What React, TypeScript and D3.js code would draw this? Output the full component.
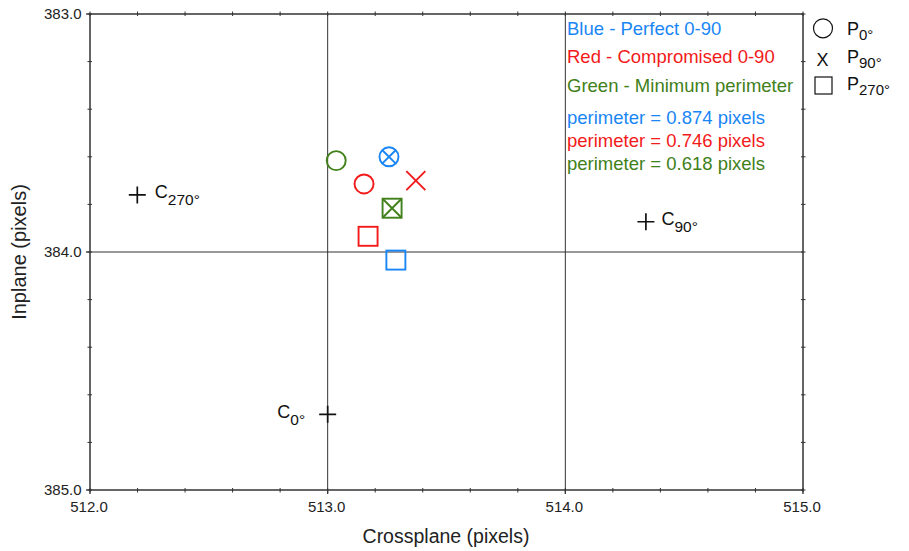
import React from "react";
import * as d3 from "d3";

const xTicks = [512, 513, 514, 515];
const yTicks = [383, 384, 385];
const gridX = [513, 514];
const gridY = [384];

const seriesNames = ["Blue - Perfect 0-90", "Red - Compromised 0-90", "Green - Minimum perimeter"];
const seriesColors = ["#1a86f5", "#f21a1a", "#41801a"];
const perimeters = ["0.874", "0.746", "0.618"];

const p0X = [513.258, 513.153, 513.036];
const p0Y = [383.6, 383.714, 383.616];
const p90X = [513.258, 513.371, 513.271];
const p90Y = [383.6, 383.7, 383.816];
const p270X = [513.287, 513.17, 513.271];
const p270Y = [384.034, 383.934, 383.816];

const centerLabels = ["0°", "90°", "270°"];
const centerX = [513.0, 514.339, 512.199];
const centerY = [384.682, 383.873, 383.76];

const symbolLabels = ["0°", "90°", "270°"];

const W = 909;
const H = 551;
const L = 90, R = 803, T = 14, B = 490;
const FONT = "'Liberation Sans', Arial, Helvetica, sans-serif";

export default function App() {
  const x = d3.scaleLinear().domain([512, 515]).range([L, R]);
  const y = d3.scaleLinear().domain([383, 385]).range([T, B]);
  const xMinor = d3.range(512, 515.0001, 0.2).map((v) => +v.toFixed(2));
  const yMinor = d3.range(383, 385.0001, 0.2).map((v) => +v.toFixed(2));
  const ink = "#333";
  const r = 9.5;
  const half = 9.5;
  const sw = 1.9;

  const circle = (cx: number, cy: number, c: string, k: string) => (
    <circle key={k} cx={cx} cy={cy} r={r} fill="none" stroke={c} strokeWidth={sw} />
  );
  const cross = (cx: number, cy: number, c: string, k: string, h = half) => (
    <path key={k} d={`M${cx - h * 0.72},${cy - h * 0.72}L${cx + h * 0.72},${cy + h * 0.72}M${cx - h * 0.72},${cy + h * 0.72}L${cx + h * 0.72},${cy - h * 0.72}`} stroke={c} strokeWidth={sw} fill="none" />
  );
  const xcross = (cx: number, cy: number, c: string, k: string) => (
    <path key={k} d={`M${cx - half},${cy - half}L${cx + half},${cy + half}M${cx - half},${cy + half}L${cx + half},${cy - half}`} stroke={c} strokeWidth={sw} fill="none" />
  );
  const square = (cx: number, cy: number, c: string, k: string) => (
    <rect key={k} x={cx - half} y={cy - half} width={half * 2} height={half * 2} fill="none" stroke={c} strokeWidth={sw} />
  );

  return (
    <svg width={W} height={H} style={{ position: "absolute", left: 0, top: 0, background: "#fff" }} fontFamily={FONT}>
      {gridX.map((v) => (
        <line key={"gx" + v} x1={x(v)} x2={x(v)} y1={T} y2={B} stroke={ink} strokeWidth={1} />
      ))}
      {gridY.map((v) => (
        <line key={"gy" + v} x1={L} x2={R} y1={y(v)} y2={y(v)} stroke={ink} strokeWidth={1} />
      ))}
      <rect x={L} y={T} width={R - L} height={B - T} fill="none" stroke={ink} strokeWidth={1.5} />
      {xMinor.map((v) => (
        <g key={"xm" + v}>
          <line x1={x(v)} x2={x(v)} y1={T - 2.5} y2={T + 2} stroke={ink} strokeWidth={1} />
          <line x1={x(v)} x2={x(v)} y1={B - 2} y2={B + 2.5} stroke={ink} strokeWidth={1} />
        </g>
      ))}
      {yMinor.map((v) => (
        <g key={"ym" + v}>
          <line x1={L - 2.5} x2={L + 2} y1={y(v)} y2={y(v)} stroke={ink} strokeWidth={1} />
          <line x1={R - 2} x2={R + 2.5} y1={y(v)} y2={y(v)} stroke={ink} strokeWidth={1} />
        </g>
      ))}
      {xTicks.map((v) => (
        <g key={"xt" + v}>
          <line x1={x(v)} x2={x(v)} y1={B} y2={B + 4} stroke={ink} strokeWidth={1.3} />
          <text x={x(v) - 1} y={B + 21.5} textAnchor="middle" fontSize={15} fill="#222">
            {v.toFixed(1)}
          </text>
        </g>
      ))}
      {yTicks.map((v) => (
        <g key={"yt" + v}>
          <line x1={L - 4} x2={L} y1={y(v)} y2={y(v)} stroke={ink} strokeWidth={1.3} />
          <text x={L - 8.5} y={y(v) + 5.3} textAnchor="end" fontSize={15} fill="#222">
            {v.toFixed(1)}
          </text>
        </g>
      ))}
      <text x={446} y={543} textAnchor="middle" fontSize={19.5} fill="#222">
        Crossplane (pixels)
      </text>
      <text transform={`translate(26,${(T + B) / 2}) rotate(-90)`} textAnchor="middle" fontSize={20} fill="#222">
        Inplane (pixels)
      </text>

      {centerLabels.map((lab, i) => {
        const cx = x(centerX[i]);
        const cy = y(centerY[i]);
        const left = i === 0;
        return (
          <g key={"c" + i}>
            <path d={`M${cx - 8.5},${cy}L${cx + 8.5},${cy}M${cx},${cy - 8.5}L${cx},${cy + 8.5}`} stroke="#111" strokeWidth={1.7} />
            <text x={left ? cx - 22.5 : cx + (i === 1 ? 15.5 : 17.5)} y={cy + 3.5} textAnchor={left ? "end" : "start"} fontSize={18} fill="#111">
              C
              <tspan fontSize={15.5} dy={7}>{lab}</tspan>
            </text>
          </g>
        );
      })}

      {seriesColors.map((c, i) => (
        <g key={"s" + i}>
          {circle(x(p0X[i]), y(p0Y[i]), c, "c")}
          {p90X[i] === p0X[i] && p90Y[i] === p0Y[i]
            ? cross(x(p90X[i]), y(p90Y[i]), c, "x")
            : xcross(x(p90X[i]), y(p90Y[i]), c, "x")}
          {square(x(p270X[i]), y(p270Y[i]), c, "s")}
        </g>
      ))}

      {seriesNames.map((n, i) => (
        <text key={"ln" + i} x={567} y={34.5 + i * 28.7} fontSize={18.5} fill={seriesColors[i]}>
          {n}
        </text>
      ))}
      {perimeters.map((p, i) => (
        <text key={"lp" + i} x={567} y={124 + i * 23} fontSize={18.5} fill={seriesColors[i]}>
          {`perimeter = ${p} pixels`}
        </text>
      ))}

      <circle cx={823} cy={28.3} r={9.5} fill="none" stroke="#111" strokeWidth={1.2} />
      <text x={822.5} y={65.5} textAnchor="middle" fontSize={18} fill="#111">X</text>
      <rect x={815} y={77} width={17} height={17} fill="none" stroke="#111" strokeWidth={1.2} />
      {symbolLabels.map((s, i) => (
        <text key={"sp" + i} x={847} y={35 + i * 27.5} fontSize={18} fill="#111">
          P
          <tspan fontSize={15} dy={5}>{s}</tspan>
        </text>
      ))}
    </svg>
  );
}
